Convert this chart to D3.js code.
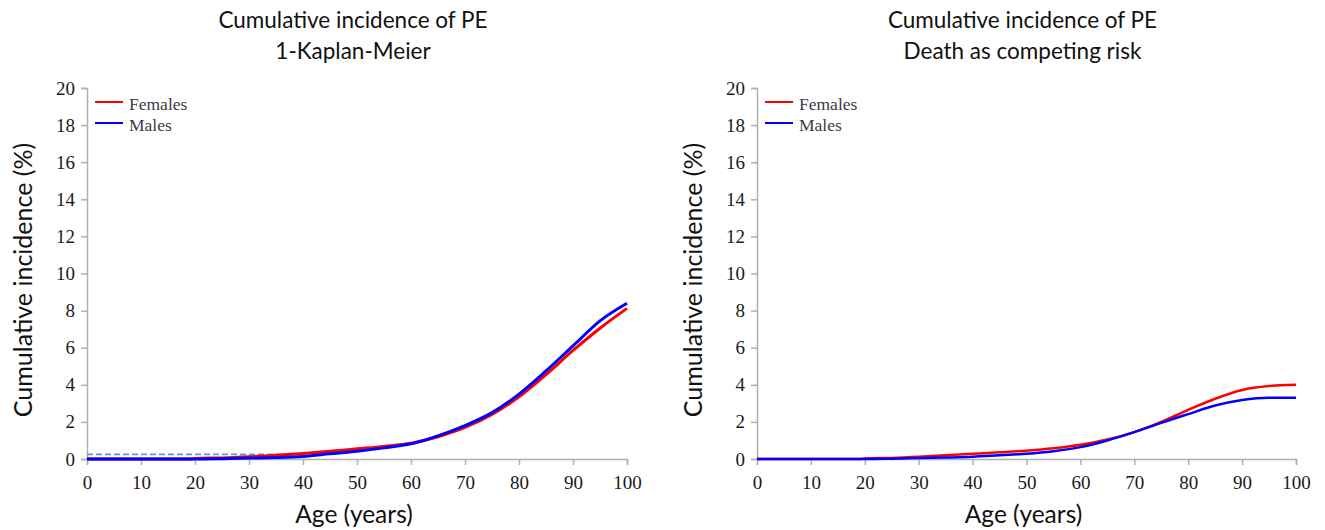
<!DOCTYPE html>
<html><head><meta charset="utf-8">
<script src="https://cdn.jsdelivr.net/npm/d3@7"></script>
<style>body{margin:0;background:#fff}</style>
</head><body>
<svg id="c" width="1325" height="530"></svg>
<script>
const ages = [0, 19, 20, 25, 30, 35, 40, 45, 50, 55, 60, 65, 70, 75, 80, 85, 90, 95, 100];
const kmFemales = [0, 0, 0.03, 0.06, 0.12, 0.2, 0.3, 0.42, 0.55, 0.68, 0.85, 1.2, 1.7, 2.4, 3.35, 4.55, 5.85, 7.05, 8.12];
const kmMales   = [0, 0, 0, 0.02, 0.05, 0.08, 0.14, 0.28, 0.42, 0.6, 0.82, 1.25, 1.8, 2.5, 3.5, 4.75, 6.1, 7.45, 8.4];
const crFemales = [0, 0, 0.03, 0.06, 0.12, 0.2, 0.28, 0.36, 0.45, 0.58, 0.77, 1.05, 1.45, 2.0, 2.65, 3.25, 3.72, 3.93, 4.0];
const crMales   = [0, 0, 0, 0.02, 0.05, 0.08, 0.12, 0.2, 0.28, 0.42, 0.64, 1.0, 1.45, 1.95, 2.42, 2.88, 3.18, 3.3, 3.3];
const refAges = [0, 38];
const refValues = [0.25, 0.25];
const xTicks = [0, 10, 20, 30, 40, 50, 60, 70, 80, 90, 100];
const yTicks = [0, 2, 4, 6, 8, 10, 12, 14, 16, 18, 20];
const seriesNames = ["Females", "Males"];
const seriesColors = ["#ff0000", "#0000ff"];

const svg = d3.select("#c");
const panels = [
  {x0: 87, x1: 627, title: ["Cumulative incidence of PE", "1-Kaplan-Meier"], f: kmFemales, m: kmMales, ref: true, lw: 3},
  {x0: 757, x1: 1296, title: ["Cumulative incidence of PE", "Death as competing risk"], f: crFemales, m: crMales, ref: false, lw: 2.5}
];
const yTop = 88, yBot = 459;
const sans = "Lato";

panels.forEach(p => {
  const g = svg.append("g");
  const x = d3.scaleLinear().domain([0, 100]).range([p.x0, p.x1]);
  const y = d3.scaleLinear().domain([0, 20]).range([yBot, yTop]);
  const cx = (p.x0 + p.x1) / 2;

  p.title.forEach((t, i) => g.append("text").attr("x", cx - 4).attr("y", 28 + i * 31)
    .attr("text-anchor", "middle").attr("font-family", sans).attr("font-size", 22.5)
    .attr("fill", "#111").text(t));

  const xa = g.append("g").attr("transform", `translate(0,${yBot})`)
    .call(d3.axisBottom(x).tickValues(xTicks).tickSize(6).tickPadding(6));
  const ya = g.append("g").attr("transform", `translate(${p.x0},0)`)
    .call(d3.axisLeft(y).tickValues(yTicks).tickSize(6).tickPadding(6));
  [xa, ya].forEach(a => {
    a.selectAll("path,line").attr("stroke", "#b0b0b0").attr("stroke-width", 1.5);
    a.selectAll("text").attr("font-family", "Liberation Serif").attr("font-size", 19).attr("fill", "#1a1a1a");
  });
  xa.selectAll("text").attr("dy", "0.95em");

  g.append("text").attr("x", cx - 3).attr("y", 523).attr("text-anchor", "middle")
    .attr("font-family", sans).attr("font-size", 24.5).attr("fill", "#111").text("Age (years)");
  g.append("text").attr("transform", `translate(${p.x0 - 55},${280}) rotate(-90)`)
    .attr("text-anchor", "middle").attr("font-family", sans).attr("font-size", 25)
    .attr("fill", "#111").text("Cumulative incidence (%)");

  if (p.ref) {
    g.append("path").datum(refAges.map((a, i) => [a, refValues[i]]))
      .attr("d", d3.line().x(d => x(d[0])).y(d => y(d[1])))
      .attr("fill", "none").attr("stroke", "#5b9bd5").attr("stroke-width", 1.8)
      .attr("stroke-dasharray", "6,3");
  }

  const line = d3.line().x(d => x(d[0])).y(d => y(d[1])).curve(d3.curveMonotoneX);
  [p.f, p.m].forEach((vals, k) => {
    g.append("path").datum(ages.map((a, i) => [a, vals[i]]))
      .attr("d", line).attr("fill", "none").attr("stroke", seriesColors[k])
      .attr("stroke-width", p.lw);
  });

  seriesNames.forEach((n, k) => {
    const ly = 102 + k * 21;
    g.append("line").attr("x1", p.x0 + 8).attr("x2", p.x0 + 36).attr("y1", ly).attr("y2", ly)
      .attr("stroke", seriesColors[k]).attr("stroke-width", 2);
    g.append("text").attr("x", p.x0 + 42).attr("y", ly + 8).attr("font-family", "Liberation Serif")
      .attr("font-size", 17.5).attr("fill", "#3a3a4a").text(n);
  });
});
</script>
</body></html>
